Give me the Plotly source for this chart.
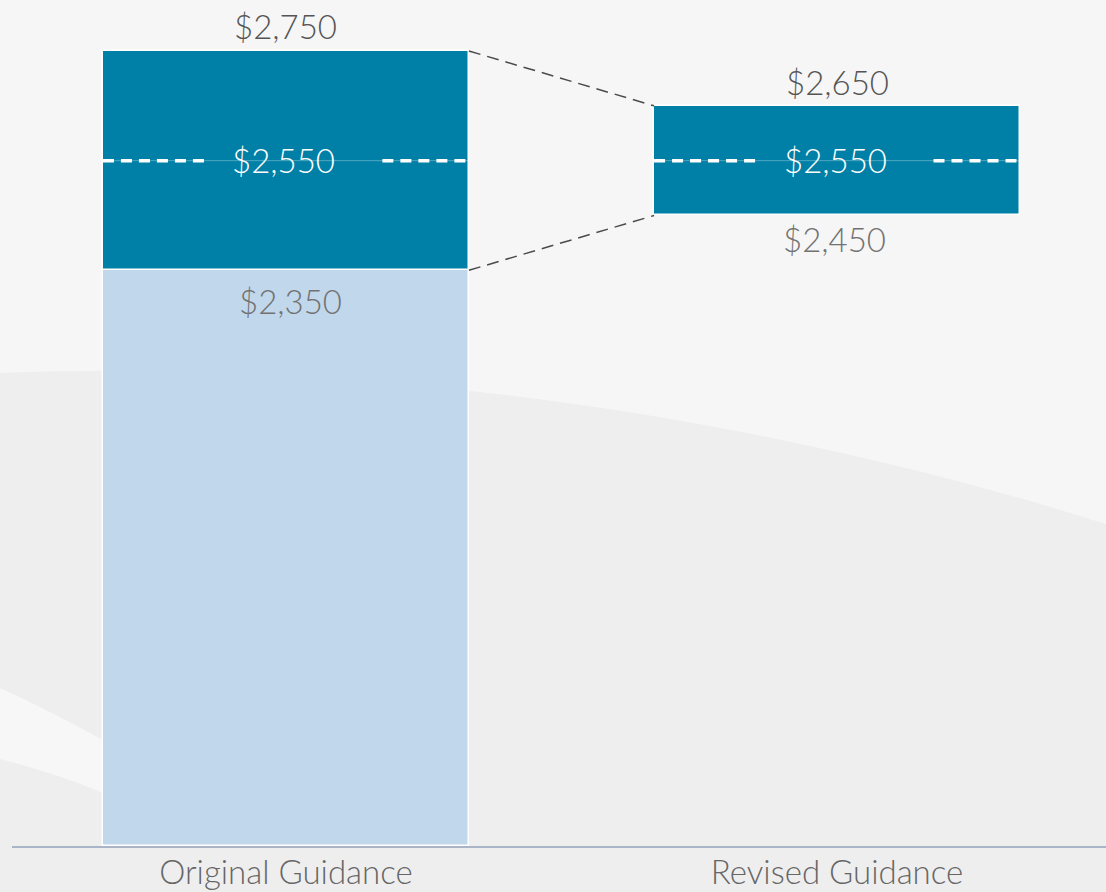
import plotly.graph_objects as go

# ---- data ----
categories = ["Original Guidance", "Revised Guidance"]
low_values = [2350, 2450]
mid_values = [2550, 2550]
high_values = [2750, 2650]
axis_floor = 1300
low_labels = ["$2,350", "$2,450"]
mid_labels = ["$2,550", "$2,550"]
high_labels = ["$2,750", "$2,650"]

TEAL = "#0080a6"
LIGHT = "#c1d7eb"
BAR_W = 0.664
FONT = "Lato"
FS = 33

W, H = 1106, 892
ML, MR, MT, MB = 12, 0, 0, 46
x_pos = list(range(len(categories)))

fig = go.Figure()

# light base of original guidance (floor to low value)
fig.add_trace(go.Bar(
    x=[x_pos[0]], y=[low_values[0] - axis_floor], base=[axis_floor],
    width=BAR_W, marker=dict(color=LIGHT, line=dict(color="white", width=1.5)),
    hoverinfo="skip", showlegend=False))

# guidance ranges
fig.add_trace(go.Bar(
    x=x_pos, y=[h - l for h, l in zip(high_values, low_values)], base=low_values,
    width=BAR_W, marker=dict(color=TEAL, line=dict(color="white", width=1.5)),
    hoverinfo="skip", showlegend=False))

# midpoint dashed lines (with a gap for the label)
gap_l, gap_r = 0.145, 0.175
for i, m in zip(x_pos, mid_values):
    fig.add_trace(go.Scatter(
        x=[i - BAR_W / 2, i + BAR_W / 2], y=[m, m], mode="lines",
        line=dict(color="rgba(255,255,255,0.3)", width=1),
        hoverinfo="skip", showlegend=False))
    for xs in ([i - BAR_W / 2, i - gap_l], [i + gap_r, i + BAR_W / 2]):
        fig.add_trace(go.Scatter(
            x=xs, y=[m, m], mode="lines",
            line=dict(color="white", width=3.5, dash="11px,7px"),
            hoverinfo="skip", showlegend=False))

# connector lines between the two ranges
for vals in (high_values, low_values):
    fig.add_trace(go.Scatter(
        x=[x_pos[0] + BAR_W / 2, x_pos[1] - BAR_W / 2], y=vals, mode="lines",
        line=dict(color="#4a4a4a", width=1.5, dash="12px,7px"),
        hoverinfo="skip", showlegend=False))

annotations = []
for i in x_pos:
    annotations.append(dict(x=i, y=high_values[i], text=high_labels[i], showarrow=False,
                            yanchor="bottom", yshift=3 if i == 0 else 2,
                            font=dict(family=FONT, size=FS, color="#555555", weight=300)))
    annotations.append(dict(x=i, y=mid_values[i], text=mid_labels[i], showarrow=False,
                            yanchor="middle", xshift=-2, yshift=1,
                            font=dict(family=FONT, size=FS, color="white", weight=300)))
    annotations.append(dict(x=i, y=low_values[i], text=low_labels[i], showarrow=False,
                            yanchor="top", yshift=-9 if i == 0 else -2, xshift=5 if i == 0 else -3,
                            font=dict(family=FONT, size=FS, color="#727272", weight=300)))

# decorative background swoosh (pixel -> paper coordinates)
pw, ph = W - ML - MR, H - MT - MB
def px(x):
    return (x - ML) / pw
def py(y):
    return (H - MB - y) / ph

def pt(x, y):
    return f"{px(x):.4f},{py(y):.4f}"

swoosh = (f"M {pt(0,373)} C {pt(300,361)} {pt(700,396)} {pt(1106,524)} "
          f"L {pt(1106,892)} L {pt(0,892)} Z")
band = (f"M {pt(0,688)} C {pt(35,704)} {pt(70,722)} {pt(103,740)} "
        f"L {pt(103,793)} C {pt(70,779)} {pt(35,768)} {pt(0,759)} Z")
shapes = [
    dict(type="path", path=swoosh, xref="paper", yref="paper", layer="below",
         fillcolor="#eeeeef", line=dict(width=0)),
    dict(type="path", path=band, xref="paper", yref="paper", layer="below",
         fillcolor="#f7f7f7", line=dict(width=0)),
]

fig.update_layout(
    width=W, height=H, autosize=False,
    margin=dict(l=ML, r=MR, t=MT, b=MB),
    paper_bgcolor="#f6f6f7", plot_bgcolor="rgba(0,0,0,0)",
    barmode="overlay", bargap=0,
    showlegend=False,
    annotations=annotations, shapes=shapes,
    xaxis=dict(range=[-0.497, 1.488], tickvals=x_pos, ticktext=categories,
               showgrid=False, zeroline=False, showline=True, automargin=False,
               linecolor="#a9b5c6", linewidth=2, ticks="", ticklabelstandoff=-4,
               tickfont=dict(family=FONT, size=FS, color="#666666", weight=300)),
    yaxis=dict(range=[axis_floor, 2843], visible=False, showgrid=False, zeroline=False,
               automargin=False),
)

fig.write_html("out.html",
               config={"displayModeBar": False, "responsive": False},
               post_script="document.body.style.margin='0';document.body.style.overflow='hidden';")
